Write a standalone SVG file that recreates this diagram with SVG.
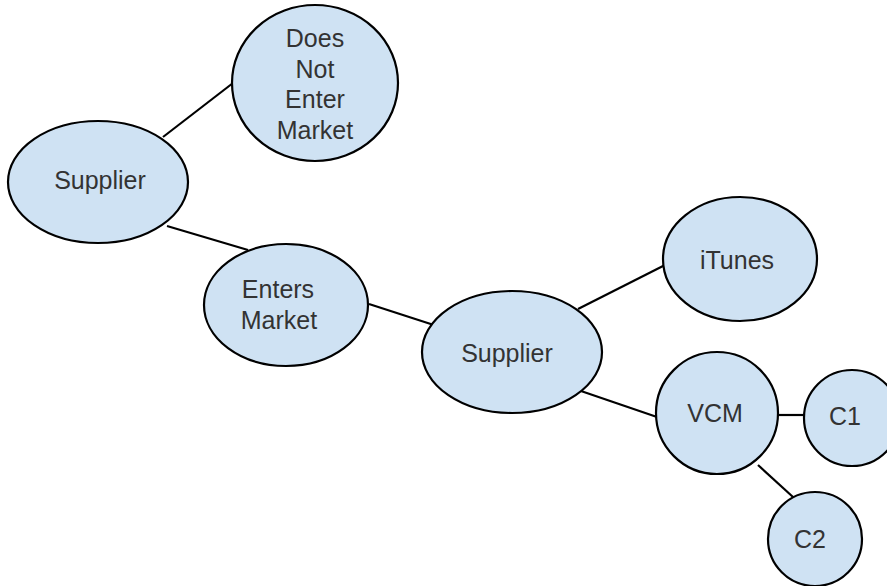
<svg xmlns="http://www.w3.org/2000/svg" width="887" height="586" viewBox="0 0 887 586">
<style>
.n{fill:#cfe2f3;stroke:#000;stroke-width:2.2}
.t{font-family:"Liberation Sans",Arial,sans-serif;font-size:25px;fill:#333;text-anchor:middle}
.e{stroke:#000;stroke-width:2.2;fill:none}
</style>
<rect width="887" height="586" fill="#fff"/>
<g id="connectors">
<line class="e" x1="163" y1="137" x2="233" y2="83"/>
<line class="e" x1="167" y1="226" x2="248" y2="250"/>
<line class="e" x1="369" y1="304" x2="440" y2="327"/>
<line class="e" x1="578" y1="309" x2="665" y2="265"/>
<line class="e" x1="578" y1="390" x2="657" y2="417"/>
<line class="e" x1="778" y1="415" x2="805" y2="415"/>
<line class="e" x1="758" y1="465" x2="793" y2="497"/>
</g>
<g id="supplier1"><ellipse class="n" cx="98" cy="182" rx="90" ry="61"/><text class="t" x="100" y="189">Supplier</text></g>
<g id="does-not-enter"><ellipse class="n" cx="315" cy="83" rx="83" ry="78"/><text class="t" x="315" y="47">Does</text><text class="t" x="315" y="78">Not</text><text class="t" x="315" y="108">Enter</text><text class="t" x="315" y="139">Market</text></g>
<g id="enters-market"><ellipse class="n" cx="286" cy="305" rx="82" ry="61"/><text class="t" x="278" y="298">Enters</text><text class="t" x="279" y="329">Market</text></g>
<g id="supplier2"><ellipse class="n" cx="512" cy="352" rx="90" ry="61"/><text class="t" x="507" y="362">Supplier</text></g>
<g id="itunes"><ellipse class="n" cx="740" cy="259" rx="77" ry="62"/><text class="t" x="737" y="269">iTunes</text></g>
<g id="vcm"><circle class="n" cx="717" cy="413" r="61"/><text class="t" x="715" y="422">VCM</text></g>
<g id="c1"><circle class="n" cx="852" cy="418" r="48"/><text class="t" x="845" y="425">C1</text></g>
<g id="c2"><circle class="n" cx="815" cy="539" r="47"/><text class="t" x="810" y="548">C2</text></g>
</svg>
